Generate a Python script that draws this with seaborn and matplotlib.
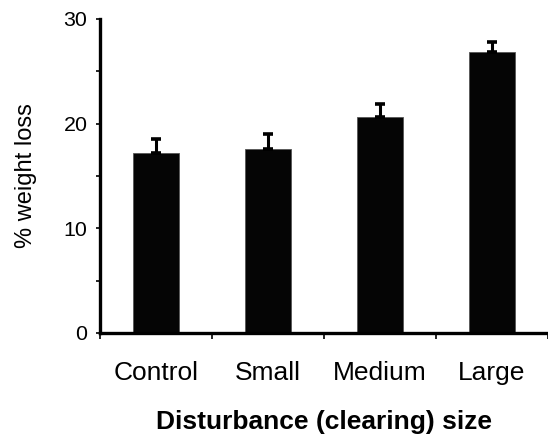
import matplotlib
matplotlib.use("Agg")
import matplotlib.pyplot as plt
import seaborn as sns
import pandas as pd
import numpy as np
from matplotlib.ticker import MultipleLocator

categories = ["Control", "Small", "Medium", "Large"]
weight_loss = [17.2, 17.6, 20.65, 26.85]
sem = [1.35, 1.45, 1.2, 0.95]

sns.set_theme(style="white")
plt.rcParams['font.family'] = ['Liberation Sans', 'DejaVu Sans']
plt.rcParams['text.color'] = 'black'
plt.rcParams['axes.labelcolor'] = 'black'
plt.rcParams['xtick.color'] = 'black'
plt.rcParams['ytick.color'] = 'black'

df = pd.DataFrame({"size": categories, "loss": weight_loss})

fig = plt.figure(figsize=(5.48, 4.34), dpi=100)
ax = fig.add_axes([100/548, 1 - 333/434, 448/548, (333 - 19)/434])

sns.barplot(data=df, x="size", y="loss", color="#050505", width=0.41,
            errorbar=None, ax=ax, edgecolor="#555555", linewidth=0.6, saturation=1)
ax.errorbar(np.arange(len(categories)), weight_loss,
            yerr=[np.zeros(len(sem)), sem], fmt="none", ecolor="black",
            elinewidth=2.2, capsize=3.3, capthick=2.6, zorder=1)

ax.set_ylim(0, 30)
ax.set_xlim(-0.5, 3.475)
ax.yaxis.set_major_locator(MultipleLocator(10))
ax.yaxis.set_minor_locator(MultipleLocator(5))
ax.set_xticks([-0.5, 0.5, 1.5, 2.5, 3.5], minor=False)
ax.set_xticklabels([])
ax.set_xticks(range(len(categories)), minor=True)
ax.set_xticklabels(categories, minor=True)

for s in ["top", "right"]:
    ax.spines[s].set_visible(False)
for s in ["left", "bottom"]:
    ax.spines[s].set_linewidth(2.4)
    ax.spines[s].set_color("black")

ax.tick_params(axis="y", which="major", direction="out", length=3, width=1.2,
               color="black", labelcolor="black", labelsize=15.4, pad=6, left=True)
ax.tick_params(axis="y", which="minor", direction="out", length=3, width=1.2,
               color="black", left=True)
ax.tick_params(axis="x", which="major", direction="out", length=4, width=1.2,
               color="black", bottom=True)
ax.tick_params(axis="x", which="minor", length=0, labelsize=19, labelcolor="black", pad=20)

ax.set_xlabel("Disturbance (clearing) size", fontsize=19, fontweight="bold", labelpad=18)
ax.set_ylabel("% weight loss", fontsize=17, labelpad=19)

fig.savefig("out.png", dpi=100)
